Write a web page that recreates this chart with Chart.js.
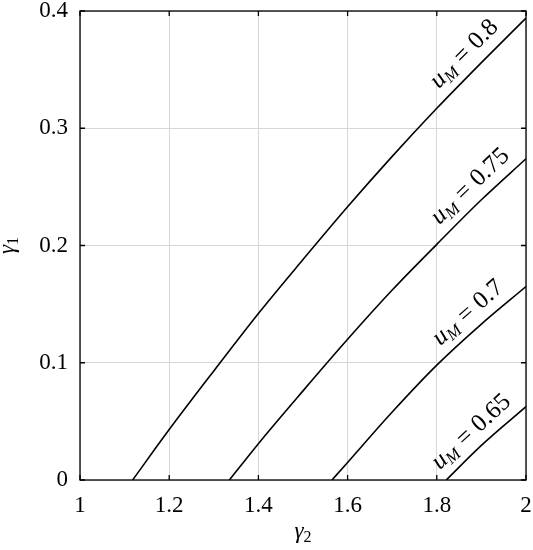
<!DOCTYPE html>
<html>

<head>
    <meta charset="utf-8" />
    <style>
        body { margin: 0; background: #fff; }
    </style>
</head>

<body>
    <canvas id="chart" width="533" height="550"></canvas>

    <script src="https://cdn.jsdelivr.net/npm/chart.js"></script>
    <script type="text/javascript">

        // valores: gamma2 (eje x) y gamma1 (eje y) para cada u_M
        const levels = ['0.8', '0.75', '0.7', '0.65'];

        const g2_080 = [1.118, 1.2, 1.3, 1.4, 1.5, 1.6, 1.7, 1.8, 1.9, 2.0];
        const g1_080 = [0, 0.043, 0.093, 0.142, 0.188, 0.233, 0.276, 0.317, 0.356, 0.394];

        const g2_075 = [1.335, 1.4, 1.5, 1.6, 1.7, 1.8, 1.9, 2.0];
        const g1_075 = [0, 0.031, 0.076, 0.120, 0.162, 0.201, 0.239, 0.274];

        const g2_070 = [1.565, 1.6, 1.7, 1.8, 1.9, 2.0];
        const g1_070 = [0, 0.015, 0.058, 0.098, 0.133, 0.165];

        const g2_065 = [1.821, 1.9, 2.0];
        const g1_065 = [0, 0.0295, 0.0625];

        const xTicks = [1, 1.2, 1.4, 1.6, 1.8, 2];
        const yTicks = [0, 0.1, 0.2, 0.3, 0.4];

        const labelAt = 1.8;   // donde empieza la etiqueta de cada curva
        const FONT = '"Liberation Serif", "DejaVu Serif", serif';

        function toPoints(xs, ys) {
            return xs.map((x, i) => ({ x: x, y: ys[i] }));
        }

        const curves = [
            toPoints(g2_080, g1_080),
            toPoints(g2_075, g1_075),
            toPoints(g2_070, g1_070),
            toPoints(g2_065, g1_065)
        ];

        // marco negro y marcas hacia adentro en los cuatro lados
        const frame = {
            id: 'frame',
            afterDatasetsDraw(chart) {
                const ctx = chart.ctx;
                const a = chart.chartArea;
                const xs = chart.scales.x, ys = chart.scales.y;
                ctx.save();
                ctx.strokeStyle = '#000';
                ctx.lineWidth = 1.3;
                ctx.beginPath();
                xTicks.forEach(v => {
                    const p = xs.getPixelForValue(v);
                    ctx.moveTo(p, a.bottom); ctx.lineTo(p, a.bottom - 5);
                    ctx.moveTo(p, a.top); ctx.lineTo(p, a.top + 5);
                });
                yTicks.forEach(v => {
                    const p = ys.getPixelForValue(v);
                    ctx.moveTo(a.left, p); ctx.lineTo(a.left + 5, p);
                    ctx.moveTo(a.right, p); ctx.lineTo(a.right - 5, p);
                });
                ctx.stroke();
                ctx.strokeRect(a.left, a.top, a.right - a.left, a.bottom - a.top);
                ctx.restore();
            }
        };

        // etiquetas u_M = ... giradas a lo largo de cada curva
        const curveLabels = {
            id: 'curveLabels',
            afterDatasetsDraw(chart) {
                const ctx = chart.ctx;
                const xs = chart.scales.x, ys = chart.scales.y;
                chart.data.datasets.forEach((ds, i) => {
                    const pts = ds.data;
                    const n = pts.length;
                    let p0 = pts[0], p1 = pts[1];
                    for (let k = 0; k < n - 1; k++) {
                        if (pts[k + 1].x >= labelAt) { p0 = pts[k]; p1 = pts[k + 1]; break; }
                    }
                    const yv = p0.y + (p1.y - p0.y) * (labelAt - p0.x) / (p1.x - p0.x);
                    const px = xs.getPixelForValue(labelAt);
                    const py = ys.getPixelForValue(yv);
                    const last = pts[n - 1];
                    const ang = Math.atan2(ys.getPixelForValue(last.y) - py, xs.getPixelForValue(last.x) - px);

                    ctx.save();
                    ctx.translate(px, py);
                    ctx.rotate(ang);
                    ctx.fillStyle = '#000';
                    ctx.textAlign = 'left';
                    ctx.textBaseline = 'alphabetic';
                    let x = 15;
                    const d = -12;
                    ctx.font = 'italic 25px ' + FONT;
                    ctx.fillText('u', x, d);
                    x += ctx.measureText('u').width;
                    ctx.font = 'italic 17px ' + FONT;
                    ctx.fillText('M', x, d + 4);
                    x += ctx.measureText('M').width + 7;
                    ctx.font = '25px ' + FONT;
                    ctx.fillText('=', x, d);
                    x += ctx.measureText('=').width + 7;
                    ctx.fillText(levels[i], x, d);
                    ctx.restore();
                });
            }
        };

        // titulos de ejes con subindice
        const axisTitles = {
            id: 'axisTitles',
            afterDraw(chart) {
                const ctx = chart.ctx;
                const a = chart.chartArea;
                ctx.save();
                ctx.fillStyle = '#000';
                ctx.textBaseline = 'alphabetic';
                ctx.textAlign = 'left';

                function drawSub(main, sub, cx, base) {
                    ctx.font = 'italic 23px ' + FONT;
                    const w1 = ctx.measureText(main).width;
                    ctx.font = '16px ' + FONT;
                    const w2 = ctx.measureText(sub).width;
                    const x0 = cx - (w1 + w2) / 2;
                    ctx.font = 'italic 23px ' + FONT;
                    ctx.fillText(main, x0, base);
                    ctx.font = '16px ' + FONT;
                    ctx.fillText(sub, x0 + w1, base + 4);
                }

                drawSub('\u03b3', '2', (a.left + a.right) / 2, 538);

                ctx.translate(14, (a.top + a.bottom) / 2);
                ctx.rotate(-Math.PI / 2);
                drawSub('\u03b3', '1', 0, 0);
                ctx.restore();
            }
        };

        const ctx = document.getElementById('chart').getContext('2d');

        new Chart(ctx, {
            type: 'scatter',
            data: {
                datasets: curves.map((pts, i) => ({
                    label: 'u_M = ' + levels[i],
                    data: pts,
                    showLine: true,
                    borderColor: '#000',
                    borderWidth: 1.6,
                    pointRadius: 0,
                    cubicInterpolationMode: 'monotone',
                    fill: false
                }))
            },
            options: {
                responsive: false,
                animation: false,
                devicePixelRatio: 1,
                layout: { padding: { top: 11, right: 7, left: 0, bottom: 0 } },
                plugins: {
                    legend: { display: false },
                    tooltip: { enabled: false }
                },
                scales: {
                    x: {
                        type: 'linear',
                        min: 1,
                        max: 2,
                        afterBuildTicks: s => { s.ticks = xTicks.map(v => ({ value: v })); },
                        afterFit: s => { s.height = 70; s.paddingLeft = 0; s.paddingRight = 0; },
                        ticks: {
                            callback: v => String(v),
                            font: { family: FONT, size: 23 },
                            color: '#000',
                            padding: 12,
                            maxRotation: 0,
                            autoSkip: false
                        },
                        grid: { color: '#d6d6d6', lineWidth: 1, drawTicks: false },
                        border: { display: false }
                    },
                    y: {
                        type: 'linear',
                        min: 0,
                        max: 0.4,
                        afterBuildTicks: s => { s.ticks = yTicks.map(v => ({ value: v })); },
                        afterFit: s => { s.width = 80; s.paddingTop = 0; s.paddingBottom = 0; },
                        ticks: {
                            callback: v => String(v),
                            font: { family: FONT, size: 23 },
                            color: '#000',
                            padding: 12,
                            autoSkip: false
                        },
                        grid: { color: '#d6d6d6', lineWidth: 1, drawTicks: false },
                        border: { display: false }
                    }
                }
            },
            plugins: [frame, curveLabels, axisTitles]
        });

    </script>

</body>

</html>
